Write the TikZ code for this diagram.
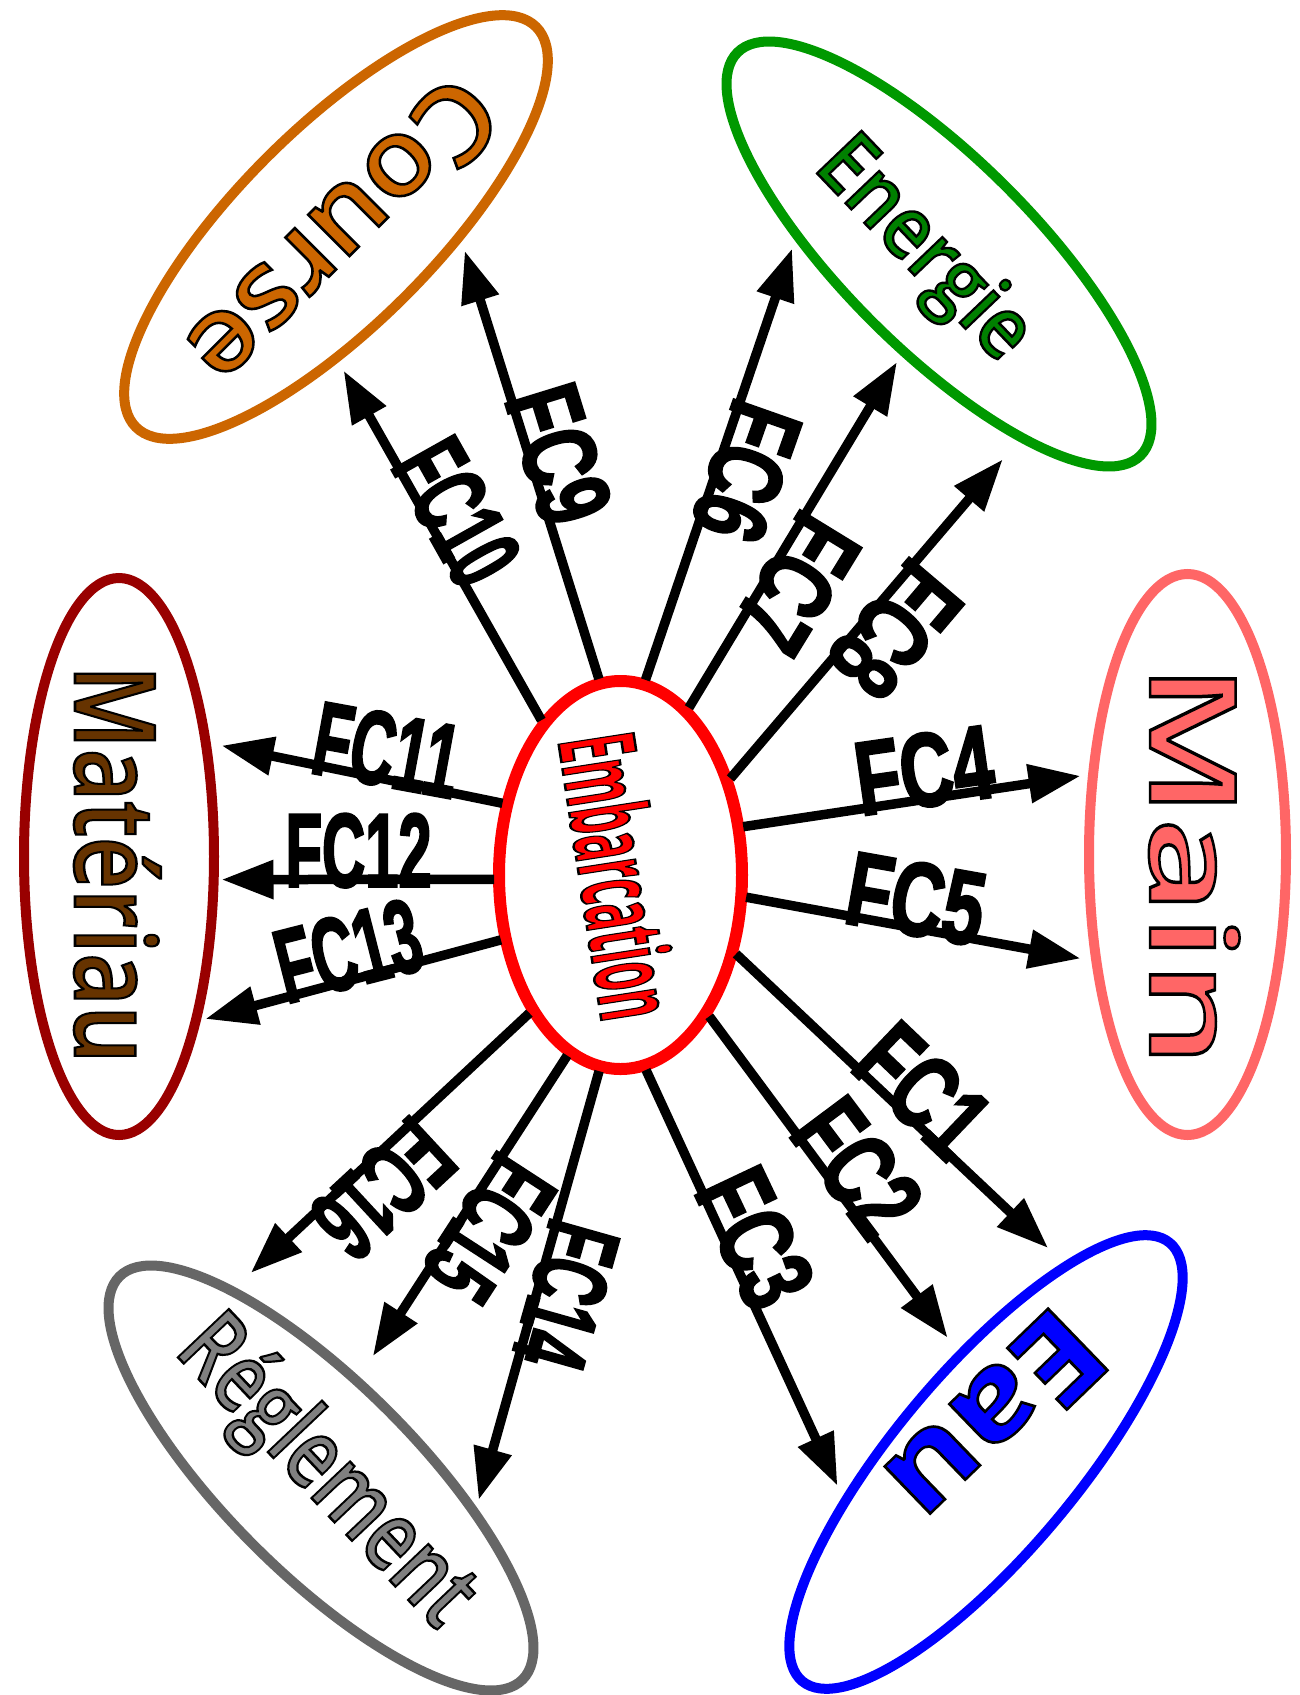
\documentclass[tikz,border=0pt]{standalone}
\usepackage{fontspec}
\usepackage{graphicx}
\usetikzlibrary{arrows.meta,shapes.geometric}
\setmainfont{Liberation Sans}
\newfontfamily\cmR{Open Sans}[UprightFont=* Semibold, BoldFont=* Bold]
\newfontfamily\fcfont{Liberation Sans}

\definecolor{embC}{RGB}{255,0,0}
\definecolor{courseC}{RGB}{204,102,0}
\definecolor{energieC}{RGB}{0,153,0}
\definecolor{energieT}{RGB}{0,128,0}
\definecolor{mainC}{RGB}{255,102,102}
\definecolor{matC}{RGB}{153,0,0}
\definecolor{matT}{RGB}{102,51,0}
\definecolor{eauC}{RGB}{0,0,255}
\definecolor{regC}{RGB}{102,102,102}
\definecolor{regT}{RGB}{128,128,128}

\tikzset{
  bubble/.style={ellipse, line width=10pt, inner sep=0pt, outer sep=0pt},
  link/.style={line width=9.5pt, shorten <=5pt, -{Triangle[length=52pt,width=37pt]}},
  fc/.style={anchor=base, inner sep=0pt, font=\fcfont\bfseries}
}

% text filled in the current colour and stroked in black (#1 = stroke width)
\newcommand\inked[2]{\special{pdf:literal direct 0 0 0 RG #1 w 2 Tr}#2\special{pdf:literal direct 0 Tr}}

% condensed heavy label sitting on its arrow
\newcommand\fclab[2]{\raisebox{-7pt}{\resizebox{#1pt}{\height}{\fontsize{104}{104}\selectfont\inked{3}{#2}}}}

% outlined word: #1 name, #2 start of baseline, #3 angle, #4 length, #5 size, #6 colour, #7 series, #8 text
\newcommand\bigword[8]{%
  \node[rotate=#3,anchor=base west,inner sep=0pt,text=#6] (#1) at (#2)
    {\resizebox{#4pt}{\height}{\fontsize{#5}{#5}\cmR#7\selectfont\inked{2.5}{#8}}};
}

\begin{document}
\begin{tikzpicture}[x=1pt,y=-1pt]
\useasboundingbox (0,0) rectangle (1300,1695);
\fill[white] (0,0) rectangle (1300,1695);

% ellipses
\node[bubble, draw=embC, line width=12pt, minimum width=243pt, minimum height=388pt] (emb) at (620.5,875) {};
\node[bubble, draw=courseC, rotate=45, minimum width=566pt, minimum height=196pt] (course) at (336,227) {};
\node[bubble, draw=energieC, rotate=-45, minimum width=570pt, minimum height=190pt] (energie) at (939,254) {};
\node[bubble, draw=mainC, minimum width=197pt, minimum height=561pt] (main) at (1187.5,854.5) {};
\node[bubble, draw=matC, minimum width=190pt, minimum height=557pt] (materiau) at (119,856.5) {};
\node[bubble, draw=eauC, rotate=50, minimum width=572pt, minimum height=182pt] (eau) at (986,1462) {};
\node[bubble, draw=regC, rotate=-45, minimum width=570pt, minimum height=190pt] (reglement) at (321,1478) {};

% arrow tips
\coordinate (t9) at (464.7,250.7);
\coordinate (t10) at (343.6,370.6);
\coordinate (t6) at (792.1,248.5);
\coordinate (t7) at (897,362);
\coordinate (t8) at (1002.8,459.3);
\coordinate (t4) at (1080.6,775.9);
\coordinate (t5) at (1080.6,958.5);
\coordinate (t1) at (1048.2,1248.1);
\coordinate (t2) at (947.7,1337.8);
\coordinate (t3) at (837.5,1485.8);
\coordinate (t14) at (478.7,1499.9);
\coordinate (t15) at (372.8,1356.2);
\coordinate (t16) at (250.7,1273);
\coordinate (t13) at (205.3,1019);
\coordinate (t12) at (221.5,879.6);
\coordinate (t11) at (221.5,745.6);

% arrows with their labels
\draw[link] (emb.96.9) -- node[fc,pos=.51,rotate=-72.9]{\fclab{138}{FC9}} (t9);
\draw[link] (emb.117.7) -- node[fc,pos=.56,rotate=-60.7]{\fclab{146}{FC10}} (t10);
\draw[link] (emb.83.8) -- node[fc,pos=.51,rotate=-109.4]{\fclab{138}{FC6}} (t6);
\draw[link] (emb.68.7) -- node[fc,pos=.41,rotate=-121.5]{\fclab{138}{FC7}} (t7);
\draw[link] (emb.41) -- node[fc,pos=.53,rotate=-130.3]{\fclab{138}{FC8}} (t8);
\draw[link] (emb.22.1) -- node[fc,pos=.555,rotate=8.1]{\fclab{138}{FC4}} (t4);
\draw[link] (emb.-10.8) -- node[fc,pos=.50,rotate=-10.1]{\fclab{138}{FC5}} (t5);
\draw[link] (emb.-34) -- node[fc,pos=.54,rotate=-43.7]{\fclab{138}{FC1}} (t1);
\draw[link] (emb.-58.4) -- node[fc,pos=.53,rotate=-53.2]{\fclab{138}{FC2}} (t2);
\draw[link] (emb.-83) -- node[fc,pos=.44,rotate=-64.7]{\fclab{138}{FC3}} (t3);
\draw[link] (emb.-96.5) -- node[fc,pos=.51,rotate=-105.8]{\fclab{146}{FC14}} (t14);
\draw[link] (emb.-106.5) -- node[fc,pos=.53,rotate=-123]{\fclab{146}{FC15}} (t15);
\draw[link] (emb.-123.9) -- node[fc,pos=.60,rotate=-137.2]{\fclab{146}{FC16}} (t16);
\draw[link] (emb.-151.2) -- node[fc,pos=.50,rotate=14.3]{\fclab{146}{FC13}} (t13);
\draw[link] (emb.-178) -- node[fc,pos=.506,rotate=0]{\fclab{146}{FC12}} (t12);
\draw[link] (emb.148.1) -- node[fc,pos=.44,rotate=-10.4]{\fclab{146}{FC11}} (t11);

% words inside the ellipses
\bigword{embT}{558,740}{-81.2}{287}{106}{embC}{\bfseries}{Embarcation}
\bigword{mainT}{1150,663}{-90}{404}{120}{mainC}{\mdseries}{Main}
\bigword{matT}{75,665}{-90}{398}{112}{matT}{\mdseries}{Matériau}
\bigword{energieTx}{812,168}{-46.3}{272}{86}{energieT}{\mdseries}{Energie}
\bigword{courseT}{455,68}{-135}{389}{108}{courseC}{\mdseries}{Course}
\bigword{eauT}{1057,1300}{-136}{250}{120}{eauC}{\bfseries}{Eau}
\bigword{regT}{173,1352}{-46.5}{385}{98}{regT}{\mdseries}{Réglement}
\end{tikzpicture}
\end{document}
